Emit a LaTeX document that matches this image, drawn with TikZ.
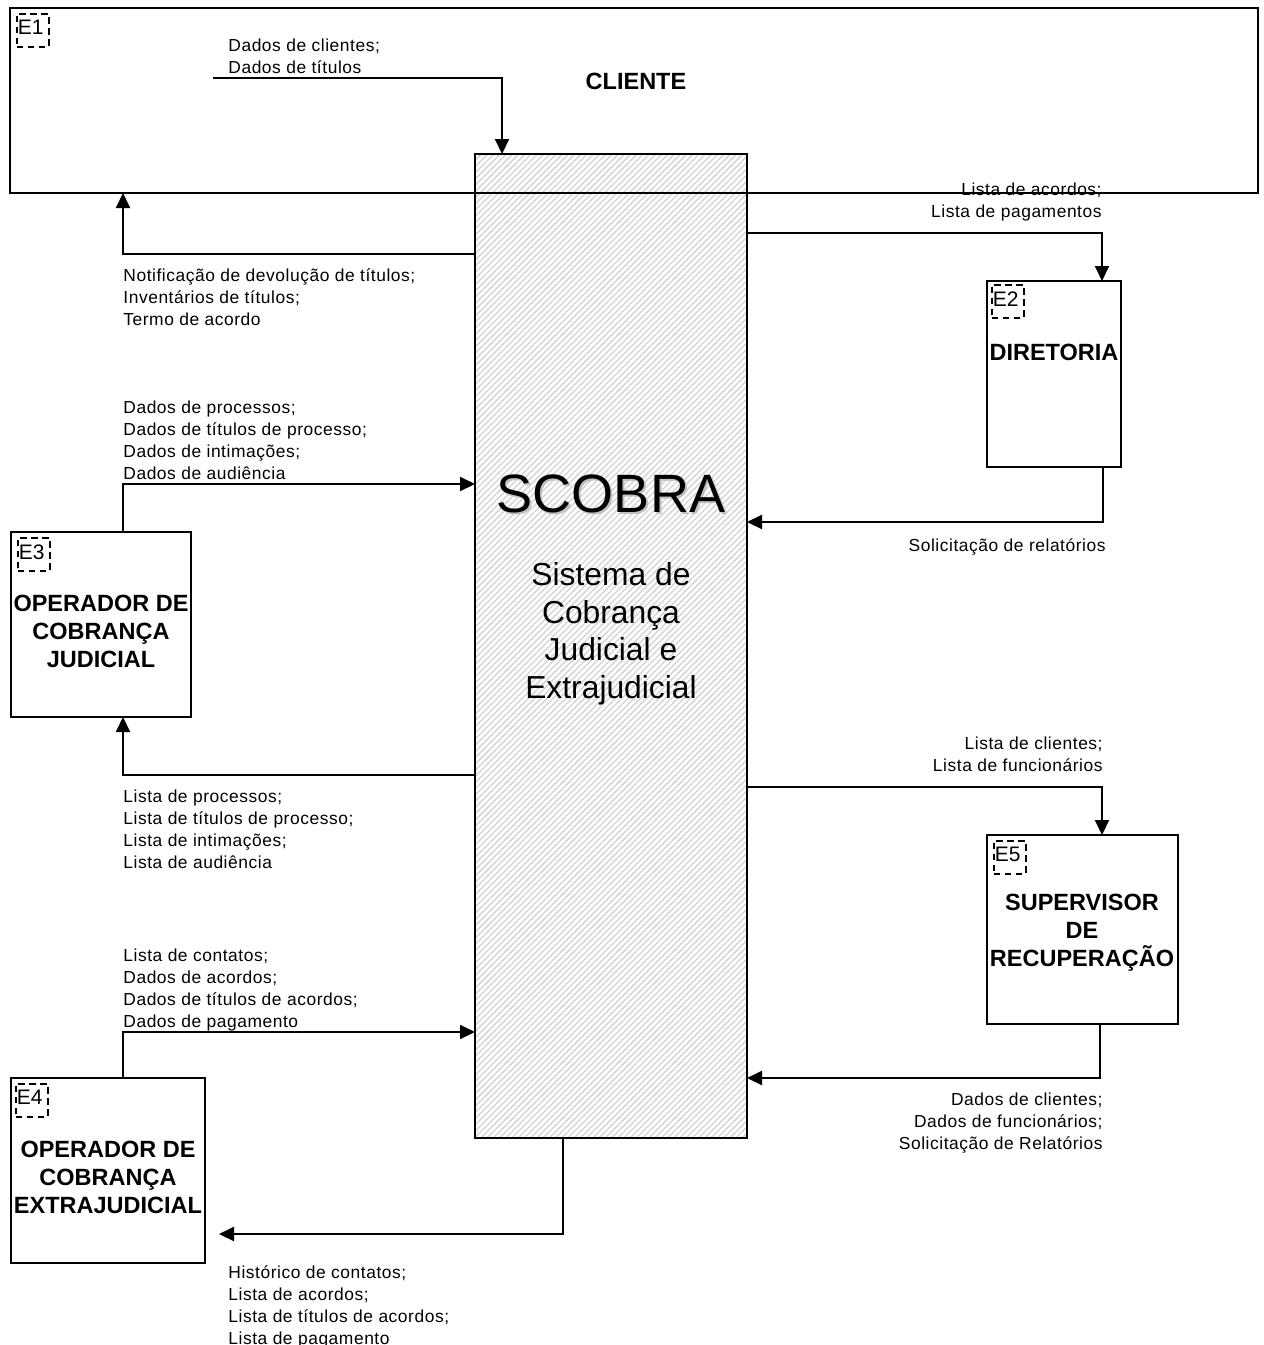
\documentclass[tikz,border=0pt]{standalone}
\usepackage{fontspec}
\setmainfont{Liberation Sans}
\newfontfamily\flowfont[LetterSpace=3.2]{Liberation Sans}
\usetikzlibrary{arrows.meta,patterns.meta}

\begin{document}
\begin{tikzpicture}[x=0.5pt,y=-0.5pt,
  box/.style={draw, line width=1pt, inner sep=0pt, outer sep=0pt},
  tagbox/.style={draw, dashed, dash pattern=on 3.3pt off 2.2pt, line width=0.8pt,
    minimum width=16pt, minimum height=16.5pt, inner sep=0pt, anchor=north west},
  tagtext/.style={font=\fontsize{10.5}{12}\selectfont, inner sep=0pt, anchor=north west},
  entity/.style={font=\fontsize{11.75}{14}\selectfont\bfseries, align=center, inner sep=0pt},
  flowlabel/.style={font=\flowfont\fontsize{8.7}{11}\selectfont, inner sep=0pt},
  flow/.style={line width=1pt, -{Triangle[length=7.5pt,width=7pt]}}]

\useasboundingbox (0,0) rectangle (1264,1345);

% central system
\node[box, pattern={Lines[angle=45,distance=2.2pt,line width=0.75pt]}, pattern color=gray!32,
  minimum width=136pt, minimum height=492pt] (scobra) at (611,646) {};
\node[font=\fontsize{27}{30}\selectfont, text=gray!50] at (613,496) {SCOBRA};
\node[font=\fontsize{27}{30}\selectfont] (scobratitle) at (611,494) {SCOBRA};
\node[font=\fontsize{15.9}{18.75}\selectfont, align=center] (scobradesc) at (611,634)
  {Sistema de\\Cobrança\\Judicial e\\Extrajudicial};

% external entities
\node[box, minimum width=624pt, minimum height=92.5pt] (cliente) at (634,100.5) {};
\node[box, minimum width=67pt, minimum height=93pt] (e2) at (1054,374) {};
\node[box, minimum width=90pt, minimum height=92.5pt] (e3) at (101,624.5) {};
\node[box, minimum width=97pt, minimum height=92.5pt] (e4) at (108,1170.5) {};
\node[box, minimum width=95.5pt, minimum height=94.5pt] (e5) at (1082.5,929.5) {};

\node[entity] (clientetxt) at (636,81) {CLIENTE};
\node[entity] (e2txt) at (1054,352) {DIRETORIA};
\node[entity] (e3txt) at (101,631) {OPERADOR DE\\COBRANÇA\\JUDICIAL};
\node[entity] (e4txt) at (108,1177) {OPERADOR DE\\COBRANÇA\\EXTRAJUDICIAL};
\node[entity] (e5txt) at (1082,933) {SUPERVISOR\\DE\\RECUPERAÇÃO};

% entity tags
\node[tagbox] (t1) at ([shift={(6,5)}]cliente.north west) {};
\node[tagtext] at ([shift={(1.5,7)}]t1.north west) {E1};
\node[tagbox] (t2) at ([shift={(4,3)}]e2.north west) {};
\node[tagtext] at ([shift={(1.5,7)}]t2.north west) {E2};
\node[tagbox] (t3) at ([shift={(6,5)}]e3.north west) {};
\node[tagtext] at ([shift={(1.5,7)}]t3.north west) {E3};
\node[tagbox] (t4) at ([shift={(4,5)}]e4.north west) {};
\node[tagtext] at ([shift={(1.5,7)}]t4.north west) {E4};
\node[tagbox] (t5) at ([shift={(6,5)}]e5.north west) {};
\node[tagtext] at ([shift={(1.5,7)}]t5.north west) {E5};

% data flows
\coordinate (cin) at (213,78);
\coordinate (e4in) at ([xshift=7pt]e4.east);
\draw[flow] (cin) -| (502,0 |- scobra.north);
\draw[flow] (scobra.west |- 0,254) -| (123,0 |- cliente.south);
\draw[flow] (scobra.east |- 0,233) -| (1102,0 |- e2.north);
\draw[flow] (1103,0 |- e2.south) |- (scobra.east |- 0,522);
\draw[flow] (123,0 |- e3.north) |- (scobra.west |- 0,484);
\draw[flow] (scobra.west |- 0,775) -| (123,0 |- e3.south);
\draw[flow] (scobra.east |- 0,787) -| (1102,0 |- e5.north);
\draw[flow] (1100,0 |- e5.south) |- (scobra.east |- 0,1078);
\draw[flow] (123,0 |- e4.north) |- (scobra.west |- 0,1032);
\draw[flow] (563,0 |- scobra.south) |- (e4in |- 0,1234);

% flow labels
\node[flowlabel, anchor=north west, align=left] (l1) at (228,38)
  {Dados de clientes;\\Dados de títulos};
\node[flowlabel, anchor=north west, align=left] (l2) at (123,268)
  {Notificação de devolução de títulos;\\Inventários de títulos;\\Termo de acordo};
\node[flowlabel, anchor=north east, align=right] (l3) at (1102,182)
  {Lista de acordos;\\Lista de pagamentos};
\node[flowlabel, anchor=north east, align=right] (l4) at (1106,538)
  {Solicitação de relatórios};
\node[flowlabel, anchor=north west, align=left] (l5) at (123,400)
  {Dados de processos;\\Dados de títulos de processo;\\Dados de intimações;\\Dados de audiência};
\node[flowlabel, anchor=north west, align=left] (l6) at (123,789)
  {Lista de processos;\\Lista de títulos de processo;\\Lista de intimações;\\Lista de audiência};
\node[flowlabel, anchor=north east, align=right] (l7) at (1103,736)
  {Lista de clientes;\\Lista de funcionários};
\node[flowlabel, anchor=north east, align=right] (l8) at (1103,1092)
  {Dados de clientes;\\Dados de funcionários;\\Solicitação de Relatórios};
\node[flowlabel, anchor=north west, align=left] (l9) at (123,948)
  {Lista de contatos;\\Dados de acordos;\\Dados de títulos de acordos;\\Dados de pagamento};
\node[flowlabel, anchor=north west, align=left] (l10) at (228,1265)
  {Histórico de contatos;\\Lista de acordos;\\Lista de títulos de acordos;\\Lista de pagamento};

\end{tikzpicture}
\end{document}
